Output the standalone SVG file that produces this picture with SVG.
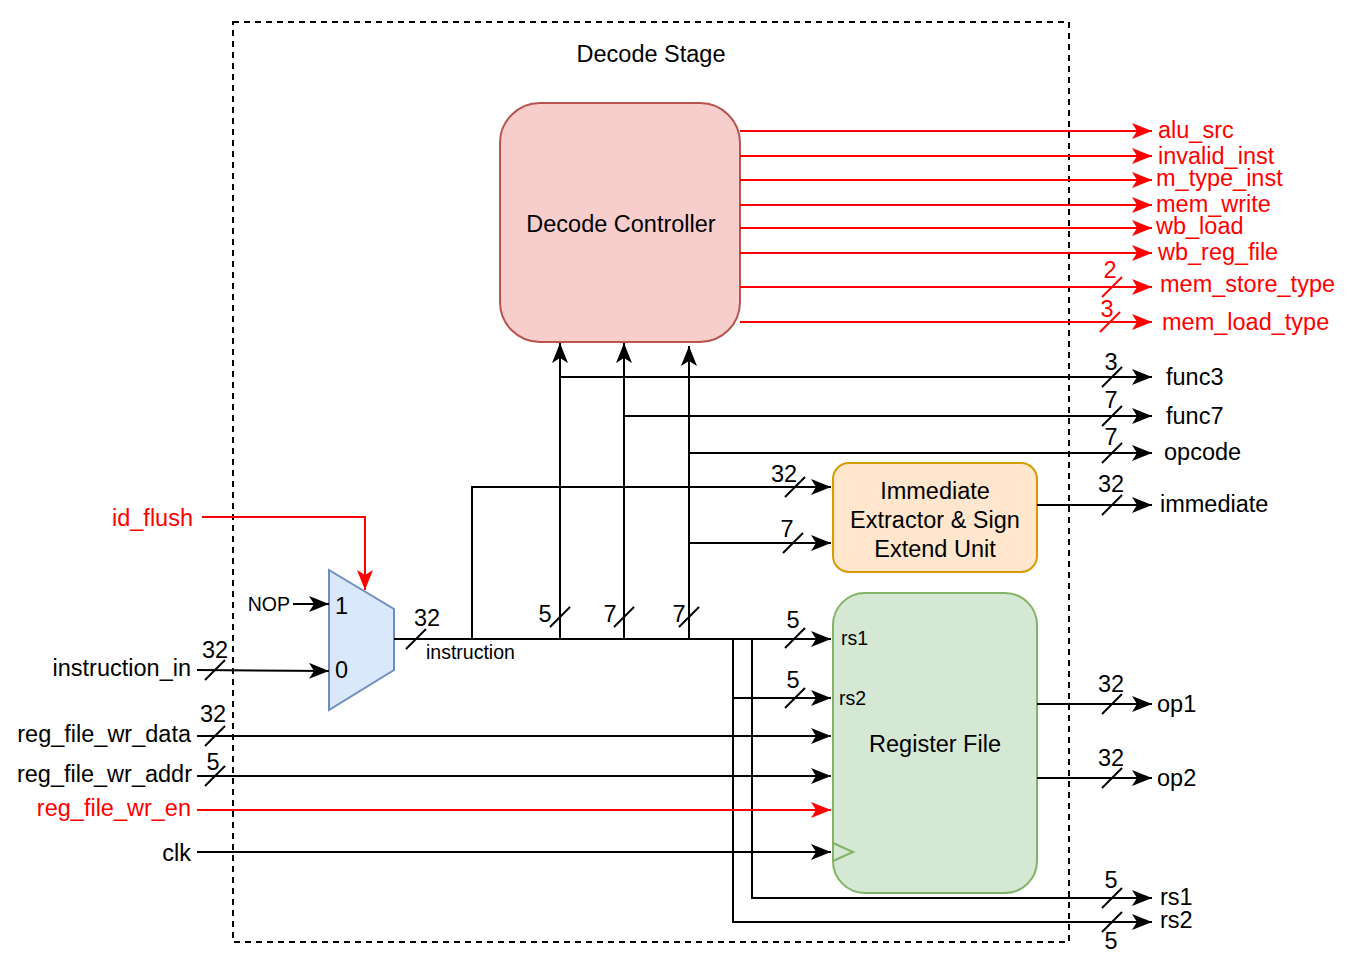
<svg xmlns="http://www.w3.org/2000/svg" width="1358" height="972" viewBox="0 0 1358 972">
<style>
text{font-family:"Liberation Sans",Arial,sans-serif;font-size:23.5px;fill:#000;dominant-baseline:central}
.s{font-size:19.5px}
.r{fill:#ff0000}
.e{text-anchor:end}
.m{text-anchor:middle}
.w{fill:none;stroke:#000;stroke-width:2}
.wr{fill:none;stroke:#ff0000;stroke-width:2}
.a{marker-end:url(#ab)}
.ar{marker-end:url(#ar)}
.sl{stroke:#000;stroke-width:2}
.slr{stroke:#ff0000;stroke-width:2}
</style>
<defs>
<marker id="ab" markerUnits="userSpaceOnUse" markerWidth="20" markerHeight="16" refX="20" refY="8" orient="auto"><path d="M0,0 L20,8 L0,16 L5,8 Z" fill="#000"/></marker>
<marker id="ar" markerUnits="userSpaceOnUse" markerWidth="20" markerHeight="16" refX="20" refY="8" orient="auto"><path d="M0,0 L20,8 L0,16 L5,8 Z" fill="#ff0000"/></marker>
</defs>
<rect width="1358" height="972" fill="#fff"/>
<g id="stage">
<rect x="233" y="22" width="836" height="920" fill="none" stroke="#000" stroke-width="2" stroke-dasharray="6 5"/>
<text x="651" y="54" class="m">Decode Stage</text>
</g>
<g id="decode-controller">
<rect x="500" y="103" width="240" height="239" rx="40" fill="#f8cecc" stroke="#b85450" stroke-width="2"/>
<text x="621" y="224" class="m">Decode Controller</text>
</g>
<g id="imm-unit">
<rect x="833" y="463" width="204" height="109" rx="16" fill="#ffe6cc" stroke="#d79b00" stroke-width="2"/>
<text x="935" y="491" class="m">Immediate</text>
<text x="935" y="520" class="m">Extractor &amp; Sign</text>
<text x="935" y="549" class="m">Extend Unit</text>
</g>
<g id="register-file">
<rect x="833" y="593" width="204" height="300" rx="32" fill="#d5e8d4" stroke="#82b366" stroke-width="2"/>
<text x="935" y="744" class="m">Register File</text>
<text x="841" y="638" class="s">rs1</text>
<text x="839" y="698" class="s">rs2</text>
<polyline points="833,843 853,852 833,861" fill="none" stroke="#82b366" stroke-width="2"/>
</g>
<g id="mux">
<polygon points="329,570 394,609 394,670 329,710" fill="#dae8fc" stroke="#6c8ebf" stroke-width="2"/>
<text x="335" y="606">1</text>
<text x="335" y="670">0</text>
</g>
<g id="connectors">
<line class="wr ar" x1="740" y1="131" x2="1152" y2="131"/>
<line class="wr ar" x1="740" y1="156" x2="1152" y2="156"/>
<line class="wr ar" x1="740" y1="180" x2="1152" y2="180"/>
<line class="wr ar" x1="740" y1="205" x2="1152" y2="205"/>
<line class="wr ar" x1="740" y1="228" x2="1152" y2="228"/>
<line class="wr ar" x1="740" y1="253" x2="1152" y2="253"/>
<line class="wr ar" x1="740" y1="287" x2="1152" y2="287"/>
<line class="wr ar" x1="740" y1="322" x2="1152" y2="322"/>
<line class="slr" x1="1102" y1="297" x2="1122" y2="277"/>
<line class="slr" x1="1100" y1="332" x2="1120" y2="312"/>
<line class="w" x1="394" y1="639" x2="752" y2="639"/>
<line class="w a" x1="752" y1="639" x2="831" y2="639"/>
<line class="sl" x1="406" y1="649" x2="426" y2="629"/>
<line class="w a" x1="560" y1="639" x2="560" y2="343"/>
<line class="w a" x1="624" y1="639" x2="624" y2="343"/>
<line class="w a" x1="689" y1="639" x2="689" y2="346"/>
<line class="sl" x1="550" y1="627" x2="570" y2="607"/>
<line class="sl" x1="614" y1="627" x2="634" y2="607"/>
<line class="sl" x1="679" y1="627" x2="699" y2="607"/>
<line class="w a" x1="560" y1="377" x2="1152" y2="377"/>
<line class="w a" x1="624" y1="416" x2="1152" y2="416"/>
<line class="w a" x1="689" y1="453" x2="1152" y2="453"/>
<line class="sl" x1="1102" y1="387" x2="1122" y2="367"/>
<line class="sl" x1="1102" y1="426" x2="1122" y2="406"/>
<line class="sl" x1="1102" y1="463" x2="1122" y2="443"/>
<polyline class="w a" points="472,639 472,487 831,487"/>
<line class="sl" x1="785" y1="497" x2="805" y2="477"/>
<line class="w a" x1="689" y1="543" x2="831" y2="543"/>
<line class="sl" x1="783" y1="553" x2="803" y2="533"/>
<line class="w a" x1="1037" y1="505" x2="1152" y2="505"/>
<line class="sl" x1="1102" y1="515" x2="1122" y2="495"/>
<line class="sl" x1="785" y1="648" x2="805" y2="628"/>
<polyline class="w a" points="733,639 733,698 831,698"/>
<line class="sl" x1="785" y1="708" x2="805" y2="688"/>
<polyline class="w a" points="752,639 752,898 1152,898"/>
<polyline class="w a" points="733,698 733,922 1152,922"/>
<line class="sl" x1="1102" y1="908" x2="1122" y2="888"/>
<line class="sl" x1="1102" y1="932" x2="1122" y2="912"/>
<line class="w a" x1="1037" y1="704" x2="1152" y2="704"/>
<line class="w a" x1="1037" y1="778" x2="1152" y2="778"/>
<line class="sl" x1="1102" y1="714" x2="1122" y2="694"/>
<line class="sl" x1="1102" y1="788" x2="1122" y2="768"/>
<polyline class="wr ar" points="202,517 365,517 365,590"/>
<line class="w a" x1="293" y1="604" x2="329" y2="604"/>
<line class="w a" x1="197" y1="670" x2="329" y2="671"/>
<line class="sl" x1="205" y1="680" x2="225" y2="660"/>
<line class="w a" x1="197" y1="736" x2="831" y2="736"/>
<line class="sl" x1="205" y1="746" x2="225" y2="726"/>
<line class="w a" x1="197" y1="776" x2="831" y2="776"/>
<line class="sl" x1="205" y1="786" x2="225" y2="766"/>
<line class="wr ar" x1="197" y1="810" x2="831" y2="810"/>
<line class="w a" x1="197" y1="852" x2="831" y2="852"/>
</g>
<g id="labels">
<text x="1158" y="130" class="r">alu_src</text>
<text x="1158" y="156" class="r">invalid_inst</text>
<text x="1156" y="178" class="r">m_type_inst</text>
<text x="1156" y="204" class="r">mem_write</text>
<text x="1156" y="226" class="r">wb_load</text>
<text x="1158" y="252" class="r">wb_reg_file</text>
<text x="1160" y="284" class="r">mem_store_type</text>
<text x="1162" y="322" class="r">mem_load_type</text>
<text x="1110" y="270" class="r m">2</text>
<text x="1107" y="309" class="r m">3</text>
<text x="1166" y="377">func3</text>
<text x="1166" y="416">func7</text>
<text x="1164" y="452">opcode</text>
<text x="1160" y="504">immediate</text>
<text x="1157" y="704">op1</text>
<text x="1157" y="778">op2</text>
<text x="1160" y="897">rs1</text>
<text x="1160" y="920">rs2</text>
<text x="1111" y="362" class="m">3</text>
<text x="1111" y="400" class="m">7</text>
<text x="1111" y="437" class="m">7</text>
<text x="1111" y="484" class="m">32</text>
<text x="1111" y="684" class="m">32</text>
<text x="1111" y="758" class="m">32</text>
<text x="1111" y="880" class="m">5</text>
<text x="1111" y="941" class="m">5</text>
<text x="427" y="618" class="m">32</text>
<text x="426" y="652" class="s">instruction</text>
<text x="545" y="614" class="m">5</text>
<text x="610" y="614" class="m">7</text>
<text x="679" y="614" class="m">7</text>
<text x="784" y="474" class="m">32</text>
<text x="787" y="529" class="m">7</text>
<text x="793" y="620" class="m">5</text>
<text x="793" y="680" class="m">5</text>
<text x="193" y="518" class="r e">id_flush</text>
<text x="290" y="604" class="s e">NOP</text>
<text x="191" y="668" class="e">instruction_in</text>
<text x="215" y="650" class="m">32</text>
<text x="191" y="734" class="e">reg_file_wr_data</text>
<text x="213" y="714" class="m">32</text>
<text x="192" y="774" class="e">reg_file_wr_addr</text>
<text x="213" y="762" class="m">5</text>
<text x="191" y="808" class="r e">reg_file_wr_en</text>
<text x="191" y="853" class="e">clk</text>
</g>
</svg>
